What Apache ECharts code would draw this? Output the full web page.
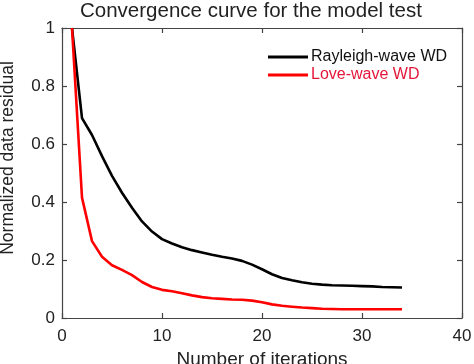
<!DOCTYPE html>
<html>
<head>
<meta charset="utf-8">
<script src="https://cdn.jsdelivr.net/npm/echarts@6/dist/echarts.min.js"></script>
<style>html,body{margin:0;padding:0;background:#fff;}#c{width:474px;height:364px;}</style>
</head>
<body>
<div id="c"></div>
<script>
const iterations = [1,2,3,4,5,6,7,8,9,10,11,12,13,14,15,16,17,18,19,20,21,22,23,24,25,26,27,28,29,30,31,32,33,34];
const rayleighWD = [1.0,0.689,0.631,0.558,0.490,0.432,0.380,0.333,0.298,0.272,0.257,0.244,0.234,0.226,0.218,0.211,0.205,0.197,0.184,0.168,0.151,0.138,0.130,0.123,0.118,0.115,0.113,0.112,0.111,0.110,0.109,0.107,0.106,0.105];
const loveWD = [1.0,0.415,0.265,0.211,0.182,0.166,0.148,0.124,0.107,0.097,0.092,0.085,0.078,0.072,0.068,0.066,0.064,0.063,0.060,0.054,0.047,0.042,0.039,0.036,0.034,0.032,0.031,0.030,0.030,0.030,0.030,0.030,0.030,0.030];
const seriesNames = ['Rayleigh-wave WD','Love-wave WD'];
const titleText = 'Convergence curve for the model test';
const xName = 'Number of iterations';
const yName = 'Normalized data residual';

const FONT = "'Liberation Sans', Arial, Helvetica, sans-serif";
const AX = '#444';
const chart = echarts.init(document.getElementById('c'), null, {renderer:'canvas'});
const pair = (xs, ys) => xs.map((x,i)=>[x, ys[i]]);
const boxAxis = (extra) => Object.assign({
  type:'value', splitLine:{show:false},
  axisLine:{show:true, onZero:false, lineStyle:{color:AX, width:1.2}},
  axisTick:{show:true, inside:true, length:5, lineStyle:{color:AX, width:1.2}}
}, extra);
chart.setOption({
  animation:false,
  backgroundColor:'#fff',
  textStyle:{fontFamily:FONT},
  title:{text:titleText, left:80, top:1, padding:0,
    textStyle:{fontFamily:FONT, fontSize:20.5, fontWeight:'normal', color:'#222'}},
  legend:{orient:'vertical', left:263, top:44, itemWidth:40, itemHeight:3, itemGap:2, icon:'rect',
    textStyle:{fontFamily:FONT, fontSize:16, color:'#111', padding:[0,0,0,-2]},
    data:[{name:seriesNames[0], textStyle:{color:'#111'}},{name:seriesNames[1], textStyle:{color:'#e4173a'}}]},
  grid:{left:62, right:12, top:28, bottom:46, outerBoundsMode:'none', containLabel:false},
  graphic:[{type:'text', x:8, y:158, rotation:Math.PI/2,
    style:{text:yName, align:'center', verticalAlign:'middle', fill:'#222',
      font:"17.5px 'Liberation Sans', Arial, Helvetica, sans-serif"}}],
  xAxis:[
    boxAxis({position:'bottom', min:0, max:40, interval:10,
      name:xName, nameLocation:'middle', nameGap:32,
      nameTextStyle:{fontFamily:FONT, fontSize:19, color:'#222'},
      axisLabel:{fontFamily:FONT, fontSize:17, color:'#222', margin:10}}),
    boxAxis({position:'top', min:0, max:40, interval:10, axisLabel:{show:false}})
  ],
  yAxis:[
    boxAxis({position:'left', min:0, max:1, interval:0.2,
      axisLabel:{fontFamily:FONT, fontSize:17, color:'#222', margin:7}}),
    boxAxis({position:'right', min:0, max:1, interval:0.2, axisLabel:{show:false}})
  ],
  series:[
    {name:seriesNames[0], type:'line', data:pair(iterations, rayleighWD), symbol:'none',
      lineStyle:{color:'#000', width:2.6}, itemStyle:{color:'#000'}},
    {name:seriesNames[1], type:'line', data:pair(iterations, loveWD), symbol:'none',
      lineStyle:{color:'#f00', width:2.6}, itemStyle:{color:'#f00'}}
  ]
});
</script>
</body>
</html>
